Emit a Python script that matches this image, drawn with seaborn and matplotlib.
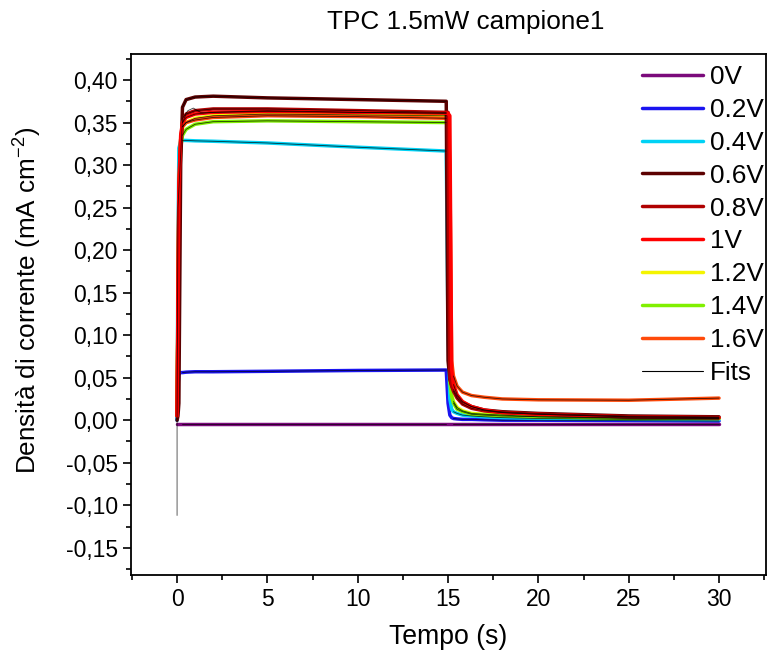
import numpy as np
import pandas as pd
import matplotlib
matplotlib.use("Agg")
import matplotlib.pyplot as plt
from matplotlib.lines import Line2D
from matplotlib.ticker import MultipleLocator, FuncFormatter
import seaborn as sns

# ---------------- data ----------------
time_s = [0, 0.05, 0.1, 0.2, 0.3, 0.5, 1, 2, 5, 10, 14.9, 15.0, 15.1, 15.2,
          15.3, 15.5, 15.8, 16.3, 17, 18, 20, 25, 30]

j_0V = [-0.004, -0.004, -0.004, -0.004, -0.004, -0.004, -0.004, -0.004, -0.004,
        -0.004, -0.004, -0.004, -0.004, -0.004, -0.004, -0.004, -0.004, -0.004,
        -0.004, -0.004, -0.004, -0.004, -0.004]
j_02V = [0.0, 0.040, 0.055, 0.056, 0.056, 0.0565, 0.057, 0.057, 0.0575, 0.0585,
         0.059, 0.020, 0.006, 0.003, 0.002, 0.0015, 0.001, 0.001, 0.0005, 0.0,
         0.0, -0.0005, -0.001]
j_04V = [0.0, 0.20, 0.320, 0.328, 0.329, 0.329, 0.3285, 0.328, 0.326, 0.321,
         0.3165, 0.10, 0.025, 0.013, 0.010, 0.008, 0.006, 0.005, 0.004, 0.003,
         0.002, 0.001, 0.0005]
j_06V = [0.0, 0.005, 0.02, 0.30, 0.368, 0.377, 0.380, 0.381, 0.379, 0.377,
         0.375, 0.070, 0.048, 0.041, 0.036, 0.028, 0.021, 0.016, 0.012, 0.010,
         0.008, 0.005, 0.004]
j_08V = [0.005, 0.12, 0.26, 0.33, 0.350, 0.360, 0.364, 0.366, 0.366, 0.364,
         0.362, 0.362, 0.050, 0.040, 0.034, 0.026, 0.019, 0.014, 0.011, 0.009,
         0.007, 0.004, 0.003]
j_1V = [0.005, 0.15, 0.28, 0.335, 0.350, 0.356, 0.360, 0.362, 0.363, 0.362,
        0.361, 0.361, 0.358, 0.060, 0.042, 0.030, 0.022, 0.016, 0.012, 0.009,
        0.007, 0.004, 0.003]
j_12V = [0.005, 0.14, 0.27, 0.33, 0.345, 0.350, 0.355, 0.358, 0.360, 0.359,
         0.358, 0.358, 0.050, 0.030, 0.022, 0.015, 0.011, 0.008, 0.007, 0.006,
         0.004, 0.003, 0.002]
j_14V = [0.005, 0.12, 0.25, 0.32, 0.335, 0.342, 0.348, 0.351, 0.352, 0.351,
         0.350, 0.350, 0.045, 0.028, 0.020, 0.013, 0.010, 0.007, 0.006, 0.005,
         0.004, 0.002, 0.002]
j_16V = [0.005, 0.13, 0.27, 0.33, 0.345, 0.350, 0.353, 0.356, 0.358, 0.357,
         0.355, 0.355, 0.300, 0.070, 0.052, 0.040, 0.033, 0.029, 0.027, 0.025,
         0.024, 0.0235, 0.026]

series_labels = ["0V", "0.2V", "0.4V", "0.6V", "0.8V", "1V", "1.2V", "1.4V", "1.6V"]
series_values = [j_0V, j_02V, j_04V, j_06V, j_08V, j_1V, j_12V, j_14V, j_16V]
series_colors = ["#7B0A7B", "#1A14F0", "#00D2F5", "#5C0000", "#B00000",
                 "#FF0000", "#F4F400", "#80F000", "#FF4A0A"]
draw_order = ["0.2V", "0.4V", "1.2V", "1.4V", "1.6V", "0.6V", "0.8V", "1V", "0V"]

# extra fit curve with the initial spike
fit_spike_t = [0.0, 0.0, 0.05, 0.3, 0.6, 0.9, 1.3, 2, 5, 10, 14.9]
fit_spike_j = [-0.112, 0.0, 0.25, 0.355, 0.364, 0.367, 0.362, 0.362, 0.364, 0.362, 0.361]

# ---------------- build tables ----------------
rows = []
for lab, vals in zip(series_labels, series_values):
    for t, v in zip(time_s, vals):
        rows.append({"t": t, "J": v, "serie": lab})
df = pd.DataFrame(rows)

fit_rows = []
for lab, vals in zip(series_labels, series_values):
    for t, v in zip(time_s, vals):
        if 0.3 <= t <= 14.9:
            fit_rows.append({"t": t, "J": v, "u": f"{lab}_a"})
        if t >= 15.3:
            fit_rows.append({"t": t, "J": v, "u": f"{lab}_b"})
for t, v in zip(fit_spike_t, fit_spike_j):
    fit_rows.append({"t": t, "J": v, "u": "spike"})
df_fit = pd.DataFrame(fit_rows)

# ---------------- style ----------------
sns.set_theme(style="ticks")
plt.rcParams["font.family"] = ["Liberation Sans", "DejaVu Sans"]
plt.rcParams["mathtext.fontset"] = "custom"
plt.rcParams["mathtext.rm"] = "Liberation Sans"
plt.rcParams["mathtext.it"] = "Liberation Sans"
plt.rcParams["mathtext.default"] = "regular"
plt.rcParams["text.color"] = "black"
plt.rcParams["axes.labelcolor"] = "black"
plt.rcParams["xtick.color"] = "black"
plt.rcParams["ytick.color"] = "black"

W, H = 767, 655
fig = plt.figure(figsize=(W / 100, H / 100), dpi=100)
ax = fig.add_axes([131 / W, 1 - 575 / H, (766 - 131) / W, (575 - 54) / H])

palette = dict(zip(series_labels, series_colors))
sns.lineplot(data=df, x="t", y="J", hue="serie", palette=palette,
             hue_order=draw_order, linewidth=2.5, legend=False,
             sort=False, estimator=None, ax=ax)
sns.lineplot(data=df_fit, x="t", y="J", units="u", color="black",
             linewidth=0.6, alpha=0.75, legend=False, sort=False,
             estimator=None, ax=ax)

ax.set_xlim(-2.55, 32.6)
ax.set_ylim(-0.182, 0.4306)
ax.xaxis.set_major_locator(MultipleLocator(5))
ax.xaxis.set_minor_locator(MultipleLocator(2.5))
ax.yaxis.set_major_locator(MultipleLocator(0.05))
ax.yaxis.set_minor_locator(MultipleLocator(0.025))
ax.yaxis.set_major_formatter(FuncFormatter(lambda v, p: f"{v:.2f}".replace(".", ",")))
ax.xaxis.set_major_formatter(FuncFormatter(lambda v, p: f"{v:.0f}"))

for s in ax.spines.values():
    s.set_linewidth(1.3)
    s.set_color("black")
ax.tick_params(which="major", direction="out", length=5.5, width=1.2,
               labelsize=16.5, colors="black", labelcolor="black", pad=4)
ax.tick_params(which="minor", direction="out", length=3.5, width=1.2, colors="black")
ax.tick_params(top=False, right=False, which="both")

ax.set_xlabel("Tempo (s)", fontsize=19.2, labelpad=9, color="black")
ax.set_ylabel("Densità di corrente (mA cm$^{-2}$)", fontsize=18.8, color="black")
ax.yaxis.set_label_coords(-0.137, 0.528)

fig.text(466 / W, 1 - 22 / H, "TPC 1.5mW campione1", ha="center", va="center",
         fontsize=18.8, color="black")

handles = [Line2D([], [], color=c, lw=2.5) for c in series_colors]
handles.append(Line2D([], [], color="black", lw=0.8))
labels = series_labels + ["Fits"]
leg = fig.legend(handles, labels, loc="upper left",
                 bbox_to_anchor=(642 / W, 1 - 65 / H),
                 bbox_transform=fig.transFigure, frameon=False,
                 fontsize=18.8, borderpad=0, borderaxespad=0,
                 handlelength=2.33, handletextpad=0.28, labelspacing=0.34)
for txt in leg.get_texts():
    txt.set_color("black")

fig.savefig("out.png", dpi=100)
